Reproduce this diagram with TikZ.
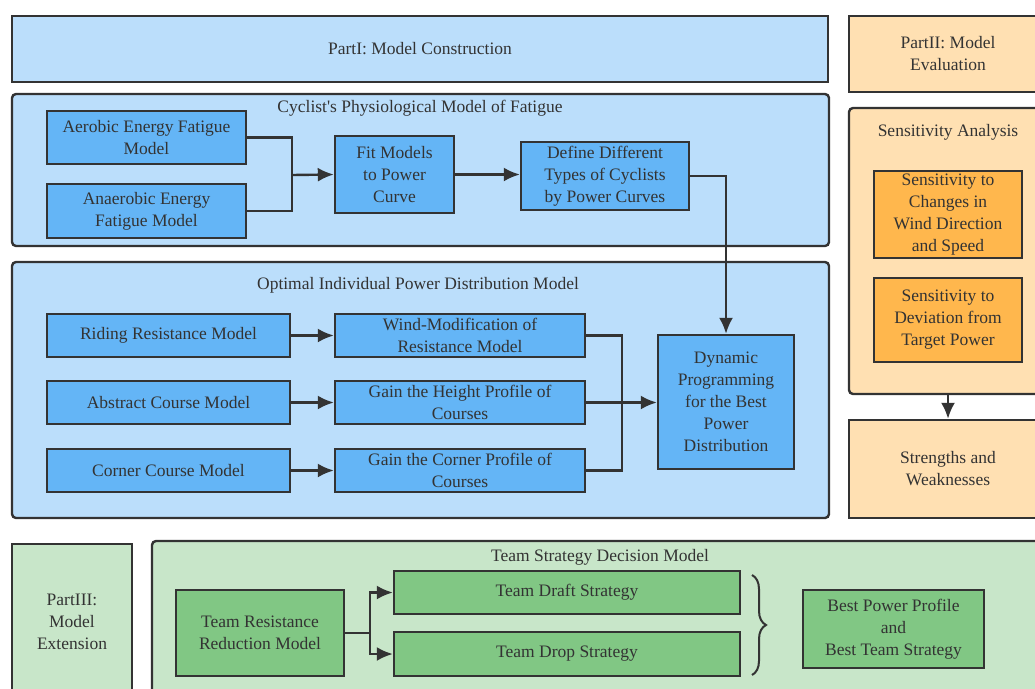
\documentclass[tikz,border=0pt]{standalone}
\usepackage{fontspec}
\setmainfont{Liberation Serif}
\usetikzlibrary{arrows.meta, decorations.pathreplacing, positioning, calc}
\definecolor{lineGray}{HTML}{333333}
\definecolor{paleBlue}{HTML}{BBDEFB}
\definecolor{midBlue}{HTML}{64B5F6}
\definecolor{paleOrange}{HTML}{FFE0B2}
\definecolor{midOrange}{HTML}{FFB74D}
\definecolor{paleGreen}{HTML}{C8E6C9}
\definecolor{midGreen}{HTML}{81C784}
\tikzset{
    boxBase/.style={draw=lineGray, line width=2.4pt, inner sep=2pt, align=center, text=lineGray},
    partBlue/.style={boxBase, fill=paleBlue},
    partOrange/.style={boxBase, fill=paleOrange},
    partGreen/.style={boxBase, fill=paleGreen},
    groupBlue/.style={partBlue, rounded corners=4pt},
    groupOrange/.style={partOrange, rounded corners=4pt},
    groupGreen/.style={partGreen, rounded corners=4pt},
    modelBlue/.style={boxBase, fill=midBlue},
    modelOrange/.style={boxBase, fill=midOrange},
    modelGreen/.style={boxBase, fill=midGreen},
    titleText/.style={text=lineGray, inner sep=1pt},
    flowLine/.style={draw=lineGray, line width=2.4pt},
    flowArrow/.style={flowLine, -{Latex[length=16pt, width=14pt]}},
}
% box by its corners, in pixels of the layout
\newcommand{\boxAt}[7][]{
    \node[#2, minimum width={#5-#3}, minimum height={#6-#4}, #1] (#7) at ({(#3+#5)/2}, {(#4+#6)/2})
}

\begin{document}
\begin{tikzpicture}[x=1pt, y=-1pt, font=\fontsize{17.5}{22}\selectfont]
    \clip (0,0) rectangle (1035,688);

    % Part I
    \boxAt{partBlue}{12}{16}{828}{82}{partOne} {PartI: Model Construction};

    \boxAt{groupBlue}{12}{94}{829}{246}{cycGroup} {};
    \node[titleText] (cycTitle) at (420,108) {Cyclist\textquotesingle s Physiological Model of Fatigue};
    \boxAt{modelBlue}{47}{111}{246}{164}{aerobic} {Aerobic Energy Fatigue\\Model};
    \boxAt{modelBlue}{47}{184}{246}{238}{anaerobic} {Anaerobic Energy\\Fatigue Model};
    \boxAt{modelBlue}{335}{136}{454}{213}{fit} {Fit Models\\to Power\\Curve};
    \boxAt{modelBlue}{521}{142}{689}{210}{define} {Define Different\\Types of Cyclists\\by Power Curves};

    \boxAt{groupBlue}{12}{262}{829}{518}{optGroup} {};
    \node[titleText] (optTitle) at (418,285) {Optimal Individual Power Distribution Model};
    \boxAt{modelBlue}{47}{314}{290}{357}{riding} {Riding Resistance Model};
    \boxAt{modelBlue}{47}{381}{290}{424}{abstract} {Abstract Course Model};
    \boxAt{modelBlue}{47}{449}{290}{492}{corner} {Corner Course Model};
    \boxAt{modelBlue}{335}{314}{585}{357}{wind} {Wind-Modification of\\Resistance Model};
    \boxAt{modelBlue}{335}{381}{585}{424}{height} {Gain the Height Profile of\\Courses};
    \boxAt{modelBlue}{335}{449}{585}{492}{cornerProf} {Gain the Corner Profile of\\Courses};
    \boxAt{modelBlue}{658}{335}{794}{469}{dynProg} {Dynamic\\Programming\\for the Best\\Power\\Distribution};

    \coordinate (fitJoin) at (292,175);
    \draw[flowLine] (aerobic.east) -| (fitJoin);
    \draw[flowLine] (anaerobic.east) -| (fitJoin);
    \draw[flowArrow] (fitJoin) -- (fit.west);
    \draw[flowArrow] (fit.east) -- (fit.east -| define.west);
    \draw[flowArrow] (define.east) -| (dynProg.north);

    \draw[flowArrow] (riding.east) -- (wind.west);
    \draw[flowArrow] (abstract.east) -- (height.west);
    \draw[flowArrow] (corner.east) -- (cornerProf.west);
    \coordinate (dpJoin) at (622,402);
    \draw[flowLine] (wind.east) -| (dpJoin);
    \draw[flowLine] (cornerProf.east) -| (dpJoin);
    \draw[flowArrow] (height.east) -- (height.east -| dynProg.west);

    % Part II
    \boxAt{partOrange}{849}{16}{1047}{92}{partTwo} {PartII: Model\\Evaluation};
    \boxAt{groupOrange}{849}{108}{1047}{394}{sensGroup} {};
    \node[titleText] (sensTitle) at (948,132) {Sensitivity Analysis};
    \boxAt{modelOrange}{874}{171}{1022}{258}{sensWind} {Sensitivity to\\Changes in\\Wind Direction\\and Speed};
    \boxAt{modelOrange}{874}{278}{1022}{362}{sensDev} {Sensitivity to\\Deviation from\\Target Power};
    \boxAt{partOrange}{849}{420}{1047}{518}{strengths} {Strengths and\\Weaknesses};
    \draw[flowArrow] (sensGroup.south) -- (strengths.north);

    % Part III
    \boxAt{partGreen}{12}{544}{132}{700}{partThree} {PartIII:\\Model\\Extension};
    \boxAt{groupGreen}{152}{541}{1047}{700}{teamGroup} {};
    \node[titleText] (teamTitle) at (600,557) {Team Strategy Decision Model};
    \boxAt{modelGreen}{176}{590}{344}{676}{teamRes} {Team Resistance\\Reduction Model};
    \boxAt{modelGreen}{394}{571}{740}{614}{draft} {Team Draft Strategy};
    \boxAt{modelGreen}{394}{632}{740}{676}{drop} {Team Drop Strategy};
    \boxAt{modelGreen}{803}{590}{984}{668}{best} {Best Power Profile\\and\\Best Team Strategy};

    \coordinate (teamJoin) at (370,633);
    \draw[flowLine] (teamRes.east) -- (teamJoin);
    \draw[flowArrow] (teamJoin) |- (draft.west);
    \draw[flowArrow] (teamJoin) |- (drop.west);
    \coordinate (braceTop) at (752,575);
    \coordinate (braceBot) at (752,675);
    \draw[lineGray, line width=2pt, decorate, decoration={brace, amplitude=14pt}] (braceTop) -- (braceBot);

\end{tikzpicture}
\end{document}
